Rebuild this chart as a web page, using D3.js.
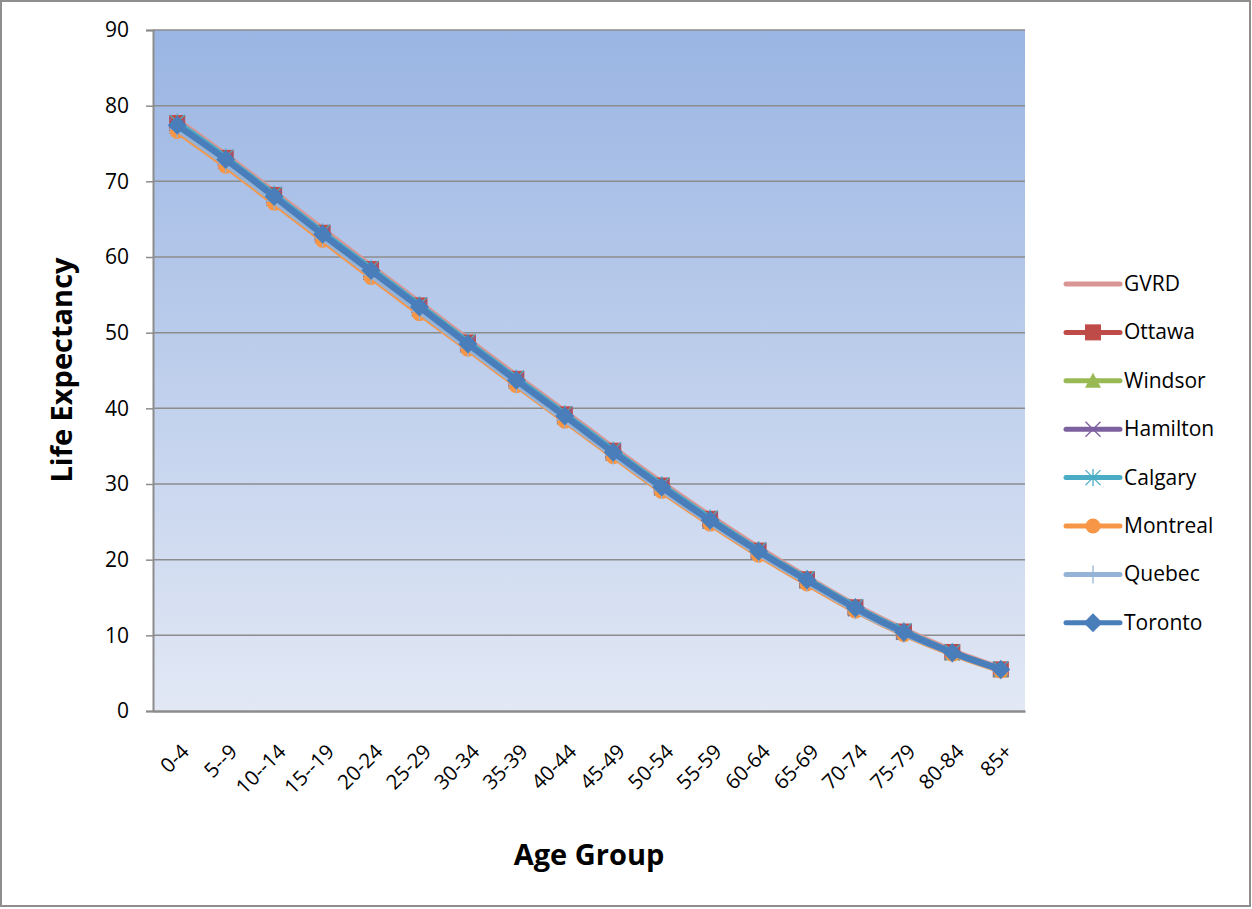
<!DOCTYPE html>
<html><head><meta charset="utf-8">
<script src="https://cdn.jsdelivr.net/npm/d3@7"></script>
<style>body{margin:0;background:#fff;}svg{display:block;font-family:"Open Sans",sans-serif;}</style>
</head><body>
<svg id="c" width="1252" height="909"></svg>
<script>
const categories = ["0-4","5--9","10--14","15--19","20-24","25-29","30-34","35-39","40-44","45-49","50-54","55-59","60-64","65-69","70-74","75-79","80-84","85+"];
const yTicks = [0,10,20,30,40,50,60,70,80,90];
const seriesNames = ["GVRD","Ottawa","Windsor","Hamilton","Calgary","Montreal","Quebec","Toronto"];
const GVRD     = [78.1,73.5,68.6,63.7,58.8,54.0,49.1,44.3,39.6,34.8,30.2,25.8,21.6,17.7,14.0,10.8,8.0,5.7];
const Ottawa   = [77.7,73.1,68.2,63.2,58.4,53.6,48.7,43.9,39.2,34.4,29.8,25.4,21.2,17.4,13.7,10.5,7.8,5.5];
const Windsor  = [77.2,72.6,67.7,62.8,57.9,53.1,48.3,43.5,38.8,34.0,29.4,25.0,20.9,17.1,13.5,10.3,7.6,5.4];
const Hamilton = [77.3,72.7,67.8,62.9,58.0,53.2,48.4,43.6,38.9,34.1,29.5,25.1,21.0,17.2,13.5,10.4,7.7,5.5];
const Calgary  = [77.8,73.2,68.3,63.3,58.5,53.7,48.8,44.0,39.3,34.5,29.9,25.5,21.3,17.5,13.8,10.6,7.8,5.6];
const Montreal = [76.6,72.0,67.1,62.2,57.3,52.5,47.8,43.0,38.3,33.6,29.0,24.7,20.6,16.8,13.2,10.1,7.5,5.3];
const Quebec   = [76.9,72.3,67.4,62.5,57.6,52.8,48.0,43.2,38.5,33.8,29.2,24.9,20.8,17.0,13.3,10.2,7.6,5.4];
const Toronto  = [77.4,72.9,68.0,63.0,58.2,53.4,48.5,43.7,39.0,34.2,29.6,25.2,21.1,17.3,13.6,10.4,7.7,5.5];
const seriesValues = [GVRD,Ottawa,Windsor,Hamilton,Calgary,Montreal,Quebec,Toronto];
const colors = ["#D99694","#BE4B48","#98B954","#7D60A0","#4BACC6","#F79646","#95B3D7","#4A7EBB"];
const markers = ["none","square","triangle","x","asterisk","circle","plus","diamond"];

const svg = d3.select("#c");
svg.append("rect").attr("x",1).attr("y",1).attr("width",1249).attr("height",905)
  .attr("fill","#fff").attr("stroke","#8E8E8E").attr("stroke-width",2);

const L=153, R=1025, T=30, B=711;
const x = d3.scaleBand().domain(categories).range([L,R]);
const y = d3.scaleLinear().domain([0,90]).range([B,T]);

const defs = svg.append("defs");
const grad = defs.append("linearGradient").attr("id","bg").attr("x1",0).attr("y1",0).attr("x2",0).attr("y2",1);
grad.append("stop").attr("offset","0%").attr("stop-color","#9AB5E3");
grad.append("stop").attr("offset","100%").attr("stop-color","#E2E8F5");
svg.append("rect").attr("x",L).attr("y",T).attr("width",R-L).attr("height",B-T).attr("fill","url(#bg)");

svg.append("g").selectAll("line").data(yTicks.filter(d=>d>0)).join("line")
  .attr("x1",L).attr("x2",R).attr("y1",d=>y(d)).attr("y2",d=>y(d))
  .attr("stroke","#8C8C8C").attr("stroke-width",1.5);

const yAxis = svg.append("g").attr("transform",`translate(${L},0)`)
  .call(d3.axisLeft(y).tickValues(yTicks).tickSize(7).tickPadding(17));
yAxis.select(".domain").attr("stroke","#8C8C8C").attr("stroke-width",2);
yAxis.selectAll(".tick line").attr("stroke","#8C8C8C").attr("stroke-width",1.5);
yAxis.selectAll("text").attr("font-size",21).attr("fill","#000").attr("font-family","Open Sans");

const xAxis = svg.append("g").attr("transform",`translate(0,${B})`)
  .call(d3.axisBottom(x).tickSize(0).tickPadding(0));
xAxis.select(".domain").attr("stroke","#8C8C8C").attr("stroke-width",2.5);
xAxis.selectAll("text").attr("font-size",20.5).attr("fill","#000").attr("font-family","Open Sans")
  .attr("text-anchor","end").attr("dy",0)
  .attr("transform","translate(13,42) rotate(-45)");

svg.append("text").attr("x",589).attr("y",865).attr("text-anchor","middle")
  .attr("font-size",29).attr("font-weight","bold").attr("font-family","Open Sans").text("Age Group");
svg.append("text").attr("transform","translate(72,370) rotate(-90)").attr("text-anchor","middle")
  .attr("font-size",29).attr("font-weight","bold").attr("font-family","Open Sans").text("Life Expectancy");

const cx = d => x(d) + x.bandwidth()/2;
const line = d3.line().x((d,i)=>cx(categories[i])).y(d=>y(d)).curve(d3.curveMonotoneX);

function drawMarker(g, type, color, px, py, s) {
  const h = s/2;
  if (type==="square") g.append("rect").attr("x",px-h).attr("y",py-h).attr("width",s).attr("height",s).attr("fill",color).attr("stroke",color);
  else if (type==="triangle") g.append("path").attr("d",`M${px},${py-h-1}L${px+h+1},${py+h}L${px-h-1},${py+h}Z`).attr("fill",color);
  else if (type==="x") g.append("path").attr("d",`M${px-h},${py-h}L${px+h},${py+h}M${px-h},${py+h}L${px+h},${py-h}`).attr("stroke",color).attr("stroke-width",1.3);
  else if (type==="asterisk") g.append("path").attr("d",`M${px-h},${py-h}L${px+h},${py+h}M${px-h},${py+h}L${px+h},${py-h}M${px},${py-h-1}L${px},${py+h+1}`).attr("stroke",color).attr("stroke-width",1.3);
  else if (type==="circle") g.append("circle").attr("cx",px).attr("cy",py).attr("r",h).attr("fill",color);
  else if (type==="plus") g.append("path").attr("d",`M${px},${py-h-1}L${px},${py+h+1}M${px-h},${py}L${px+h},${py}`).attr("stroke",color).attr("stroke-width",1.3);
  else if (type==="diamond") g.append("path").attr("d",`M${px},${py-h-1}L${px+h+1},${py}L${px},${py+h+1}L${px-h-1},${py}Z`).attr("fill",color);
}
const msize = {square:15,triangle:14,x:15,asterisk:15,circle:15,plus:16,diamond:17};

seriesValues.forEach((vals,si)=>{
  const g = svg.append("g");
  g.append("path").datum(vals).attr("d",line).attr("fill","none")
    .attr("stroke",colors[si]).attr("stroke-width", si===7?6.5:5.5).attr("stroke-linejoin","round").attr("stroke-linecap","round");
  if (markers[si]!=="none") vals.forEach((v,i)=>drawMarker(g, markers[si], colors[si], cx(categories[i]), y(v), msize[markers[si]]));
});

const lg = svg.append("g");
seriesNames.forEach((n,i)=>{
  const ly = 284 + i*48.4;
  lg.append("line").attr("x1",1066).attr("x2",1120).attr("y1",ly).attr("y2",ly)
    .attr("stroke",colors[i]).attr("stroke-width",5).attr("stroke-linecap","round");
  if (markers[i]!=="none") drawMarker(lg, markers[i], colors[i], 1093, ly, msize[markers[i]]);
  lg.append("text").attr("x",1124).attr("y",ly+7).attr("font-size",21).attr("font-family","Open Sans").text(n);
});
</script>
</body></html>
